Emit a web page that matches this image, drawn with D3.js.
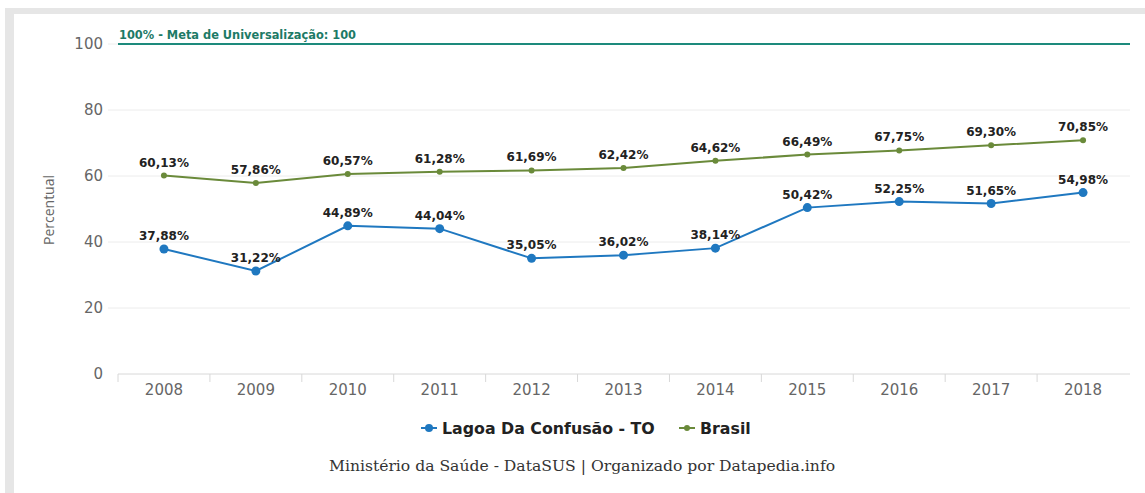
<!DOCTYPE html>
<html>
<head>
<meta charset="utf-8">
<script src="https://cdn.jsdelivr.net/npm/d3@7/dist/d3.min.js"></script>
<style>
  html, body { margin: 0; padding: 0; background: #fff; }
  svg { display: block; }
</style>
</head>
<body>
<svg id="chart" width="1145" height="493"></svg>
<script>
const years = ["2008","2009","2010","2011","2012","2013","2014","2015","2016","2017","2018"];
const lagoa = [37.88, 31.22, 44.89, 44.04, 35.05, 36.02, 38.14, 50.42, 52.25, 51.65, 54.98];
const brasil = [60.13, 57.86, 60.57, 61.28, 61.69, 62.42, 64.62, 66.49, 67.75, 69.30, 70.85];
const yTicks = [0, 20, 40, 60, 80, 100];
const meta = 100;
const metaLabel = "100% - Meta de Universalização: 100";
const seriesNames = ["Lagoa Da Confusão - TO", "Brasil"];

(function () {
const svg = d3.select("#chart");
const W = 1145, H = 493;
const mLeft = 118, mRight = 1129, mTop = 44, mBottom = 374;
const sans = "'DejaVu Sans', Verdana, sans-serif";

// outer frame
svg.append("rect").attr("x", 5).attr("y", 8).attr("width", W - 5).attr("height", H - 8).attr("fill", "#e6e6e6");
svg.append("rect").attr("x", 14).attr("y", 14).attr("width", W - 14).attr("height", H - 14).attr("fill", "#fff");

const x = d3.scaleBand().domain(years).range([mLeft, mRight]).padding(0);
const y = d3.scaleLinear().domain([0, 100]).range([mBottom, mTop]);

const fmt = v => v.toFixed(2).replace(".", ",") + "%";

// gridlines
svg.append("g").selectAll("line").data(yTicks.filter(t => t > 0)).join("line")
  .attr("x1", 108).attr("x2", 1130)
  .attr("y1", d => y(d)).attr("y2", d => y(d))
  .attr("stroke", "#ececec").attr("stroke-width", 1);

// y tick labels
svg.append("g").selectAll("text").data(yTicks).join("text")
  .attr("x", 103).attr("y", d => y(d)).attr("dy", "0.35em")
  .attr("text-anchor", "end")
  .attr("font-family", sans).attr("font-size", 15)
  .attr("fill", "#666").text(d => d);

// x axis
const xAxis = d3.axisBottom(x).tickSize(0).tickPadding(10);
const gx = svg.append("g").attr("transform", `translate(0,${mBottom})`).call(xAxis);
gx.select(".domain").attr("stroke", "#d8d8d8").attr("d", `M${mLeft},0H1130`);
gx.selectAll("text").attr("font-family", sans).attr("font-size", 15).attr("fill", "#666");
svg.append("g").selectAll("line").data(years).join("line")
  .attr("x1", d => x(d)).attr("x2", d => x(d))
  .attr("y1", mBottom).attr("y2", mBottom + 8)
  .attr("stroke", "#d8d8d8");

// y axis title
svg.append("text")
  .attr("transform", `translate(54,${(mTop + mBottom) / 2 + 1}) rotate(-90)`)
  .attr("text-anchor", "middle")
  .attr("font-family", "'Open Sans', sans-serif").attr("font-size", 14)
  .attr("fill", "#666").text("Percentual");

// meta line
svg.append("line").attr("x1", mLeft).attr("x2", 1130).attr("y1", y(meta)).attr("y2", y(meta))
  .attr("stroke", "#1d8a7c").attr("stroke-width", 2);
svg.append("text").attr("x", mLeft + 1).attr("y", y(meta) - 5)
  .attr("font-family", sans).attr("font-weight", "bold").attr("font-size", 11.4)
  .attr("fill", "#1d7a66").text(metaLabel);

const cx = d => x(d) + x.bandwidth() / 2;
const line = d3.line().x((d, i) => cx(years[i])).y(d => y(d));

function drawSeries(vals, color, r, width) {
  svg.append("path").datum(vals).attr("d", line).attr("fill", "none")
    .attr("stroke", color).attr("stroke-width", width);
  svg.append("g").selectAll("circle").data(vals).join("circle")
    .attr("cx", (d, i) => cx(years[i])).attr("cy", d => y(d)).attr("r", r).attr("fill", color);
  svg.append("g").selectAll("text").data(vals).join("text")
    .attr("x", (d, i) => cx(years[i])).attr("y", d => y(d) - 9)
    .attr("text-anchor", "middle")
    .attr("font-family", sans).attr("font-weight", "bold").attr("font-size", 12)
    .attr("fill", "#222").text(d => fmt(d));
}
drawSeries(brasil, "#6a8a3a", 3, 2);
drawSeries(lagoa, "#1f78c0", 4.5, 2);

// legend
const lg = svg.append("g");
function legendItem(xPos, color, r, label) {
  lg.append("line").attr("x1", xPos).attr("x2", xPos + 16).attr("y1", 428).attr("y2", 428)
    .attr("stroke", color).attr("stroke-width", 2);
  lg.append("circle").attr("cx", xPos + 8).attr("cy", 428).attr("r", r).attr("fill", color);
  lg.append("text").attr("x", xPos + 21).attr("y", 428).attr("dy", "0.35em")
    .attr("font-family", sans).attr("font-weight", "bold").attr("font-size", 15.8)
    .attr("fill", "#222").text(label);
}
legendItem(421, "#1f78c0", 4, seriesNames[0]);
legendItem(679, "#6a8a3a", 3, seriesNames[1]);

// footer
svg.append("text").attr("x", 582).attr("y", 466).attr("dy", "0.35em").attr("text-anchor", "middle")
  .attr("font-family", "'DejaVu Serif', 'Liberation Serif', serif").attr("font-size", 15.6)
  .attr("fill", "#333").text("Ministério da Saúde - DataSUS | Organizado por Datapedia.info");
})();
</script>
</body>
</html>
